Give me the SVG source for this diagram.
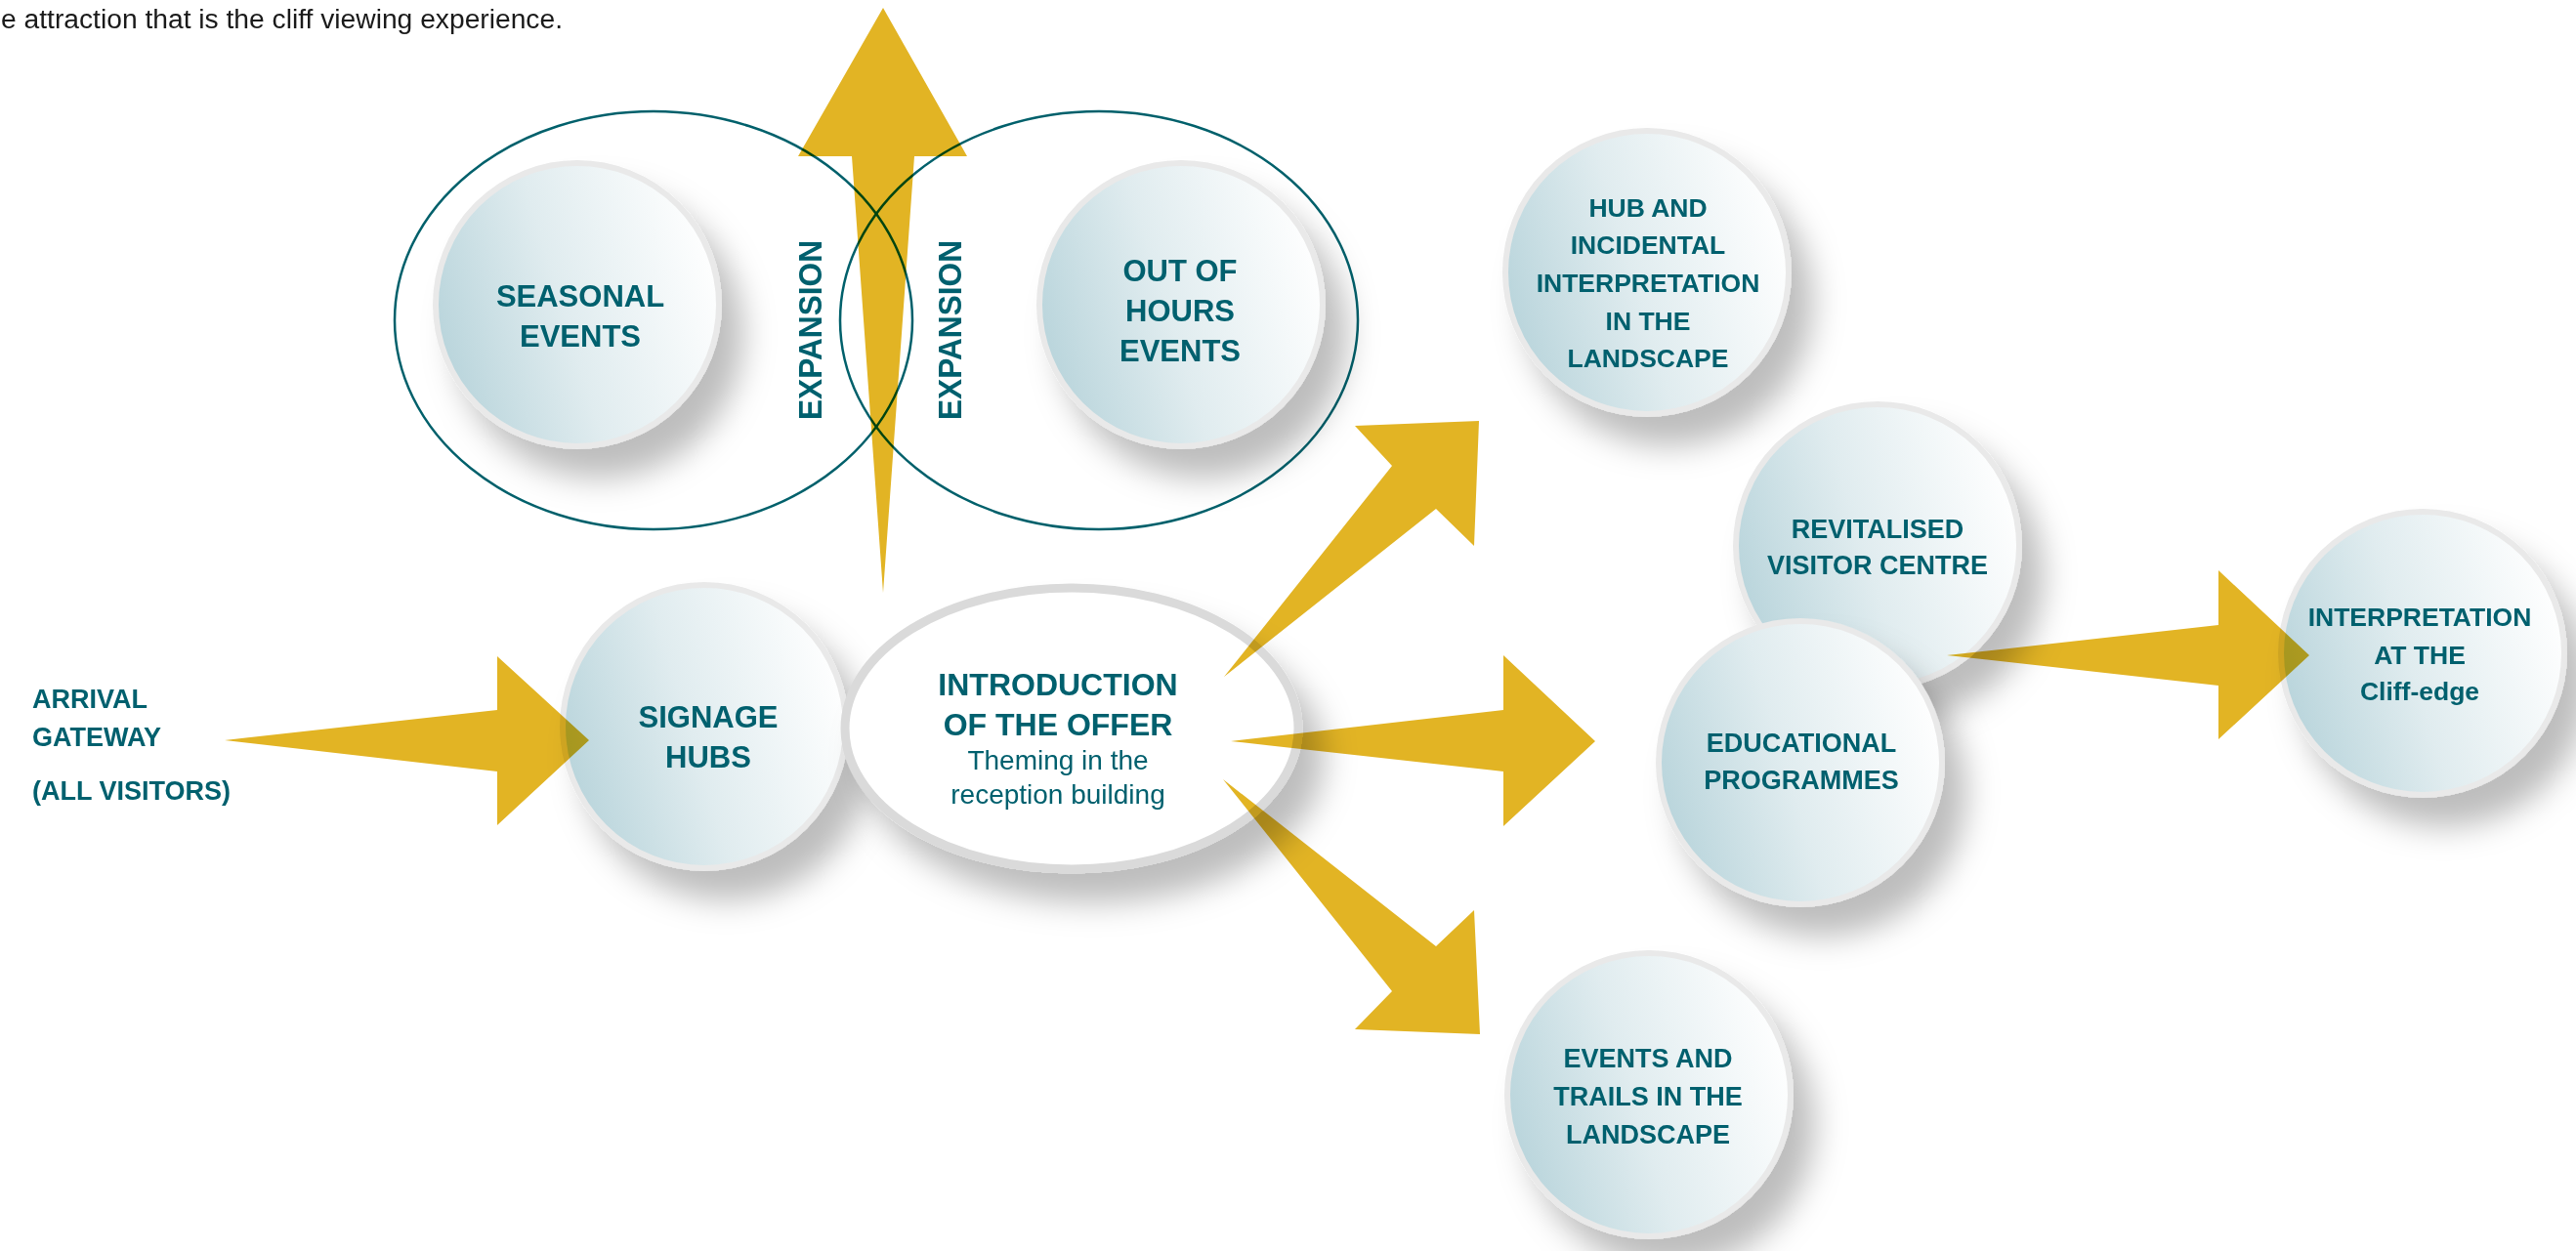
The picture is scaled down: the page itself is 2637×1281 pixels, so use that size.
<svg xmlns="http://www.w3.org/2000/svg" width="2637" height="1281" viewBox="0 0 2637 1281">
<defs>
<linearGradient id="cg" x1="0" y1="0.65" x2="1" y2="0.35">
<stop offset="0" stop-color="#b8d4db"/>
<stop offset="0.45" stop-color="#e0ecef"/>
<stop offset="1" stop-color="#ffffff"/>
</linearGradient>
<filter id="sh" x="-30%" y="-30%" width="170%" height="170%">
<feDropShadow dx="22" dy="30" stdDeviation="16" flood-color="#000" flood-opacity="0.26"/>
</filter>
</defs>
<style>
.c{fill:url(#cg);stroke:#e9e9e9;stroke-width:6;filter:url(#sh)}
.ring{fill:none;stroke:#00606b;stroke-width:2.5}
.t{font-family:"Liberation Sans",Arial,sans-serif;font-weight:bold;fill:#00606e;text-anchor:middle}
.r{font-family:"Liberation Sans",Arial,sans-serif;fill:#00606e;text-anchor:middle}
.a{fill:#e2b424;mix-blend-mode:multiply}
</style>
<rect width="2637" height="1281" fill="#ffffff"/>
<text x="1" y="29" font-family="Liberation Sans, Arial, sans-serif" font-size="27" fill="#1a1a1a" textLength="575" lengthAdjust="spacingAndGlyphs">e attraction that is the cliff viewing experience.</text>

<g id="expansion-rings">
<ellipse class="ring" cx="669" cy="328" rx="265" ry="214"/>
<ellipse class="ring" cx="1125" cy="328" rx="265" ry="214"/>
<text class="t" font-size="33" transform="translate(841,338) rotate(-90)" textLength="184" lengthAdjust="spacingAndGlyphs">EXPANSION</text>
<text class="t" font-size="33" transform="translate(984,338) rotate(-90)" textLength="184" lengthAdjust="spacingAndGlyphs">EXPANSION</text>
</g>

<g id="seasonal-events">
<circle class="c" cx="591" cy="312" r="145"/>
<text class="t" font-size="31"><tspan x="594" y="314">SEASONAL</tspan><tspan x="594" y="355">EVENTS</tspan></text>
</g>

<g id="out-of-hours-events">
<circle class="c" cx="1209" cy="312" r="145"/>
<text class="t" font-size="31"><tspan x="1208" y="288">OUT OF</tspan><tspan x="1208" y="329">HOURS</tspan><tspan x="1208" y="370">EVENTS</tspan></text>
</g>

<g id="arrival-gateway">
<text class="t" font-size="27" style="text-anchor:start"><tspan x="33" y="725">ARRIVAL</tspan><tspan x="33" y="764">GATEWAY</tspan><tspan x="33" y="819">(ALL VISITORS)</tspan></text>
</g>

<g id="signage-hubs">
<circle class="c" cx="721" cy="744" r="145"/>
<text class="t" font-size="31"><tspan x="725" y="745">SIGNAGE</tspan><tspan x="725" y="786">HUBS</tspan></text>
</g>

<g id="introduction">
<ellipse cx="1097" cy="746" rx="232" ry="144" fill="#ffffff" stroke="#dadada" stroke-width="9" filter="url(#sh)"/>
<text class="t" font-size="32"><tspan x="1083" y="712">INTRODUCTION</tspan><tspan x="1083" y="753">OF THE OFFER</tspan></text>
<text class="r" font-size="28"><tspan x="1083" y="788">Theming in the</tspan><tspan x="1083" y="823">reception building</tspan></text>
</g>

<g id="hub-incidental">
<circle class="c" cx="1686" cy="279" r="145"/>
<text class="t" font-size="26.5"><tspan x="1687" y="222">HUB AND</tspan><tspan x="1687" y="260">INCIDENTAL</tspan><tspan x="1687" y="299">INTERPRETATION</tspan><tspan x="1687" y="338">IN THE</tspan><tspan x="1687" y="376">LANDSCAPE</tspan></text>
</g>

<g id="revitalised-visitor-centre">
<circle class="c" cx="1922" cy="559" r="145"/>
<text class="t" font-size="27"><tspan x="1922" y="551">REVITALISED</tspan><tspan x="1922" y="588">VISITOR CENTRE</tspan></text>
</g>

<g id="educational-programmes">
<circle class="c" cx="1843" cy="781" r="145"/>
<text class="t" font-size="27"><tspan x="1844" y="770">EDUCATIONAL</tspan><tspan x="1844" y="808">PROGRAMMES</tspan></text>
</g>

<g id="events-trails">
<circle class="c" cx="1688" cy="1121" r="145"/>
<text class="t" font-size="27"><tspan x="1687" y="1093">EVENTS AND</tspan><tspan x="1687" y="1132">TRAILS IN THE</tspan><tspan x="1687" y="1171">LANDSCAPE</tspan></text>
</g>

<g id="cliff-edge">
<circle class="c" cx="2480" cy="669" r="145"/>
<text class="t" font-size="26.5"><tspan x="2477" y="641">INTERPRETATION</tspan><tspan x="2477" y="680">AT THE</tspan><tspan x="2477" y="717">Cliff-edge</tspan></text>
</g>

<g id="connectors">
<polygon class="a" points="904,8 990,160 936,160 904,607 872,160 817,160"/>
<polygon class="a" points="230,758 509,727 509,672 603,758 509,845 509,790"/>
<polygon class="a" points="1253,693 1425,477 1387,436 1514,431 1509,559 1470,521"/>
<polygon class="a" points="1260,759 1539,727 1539,671 1633,759 1539,846 1539,790"/>
<polygon class="a" points="1252,798 1470,969 1509,932 1515,1059 1387,1054 1425,1015"/>
<polygon class="a" points="1993,671 2271,640 2271,584 2364,671 2271,757 2271,702"/>
</g>
</svg>
